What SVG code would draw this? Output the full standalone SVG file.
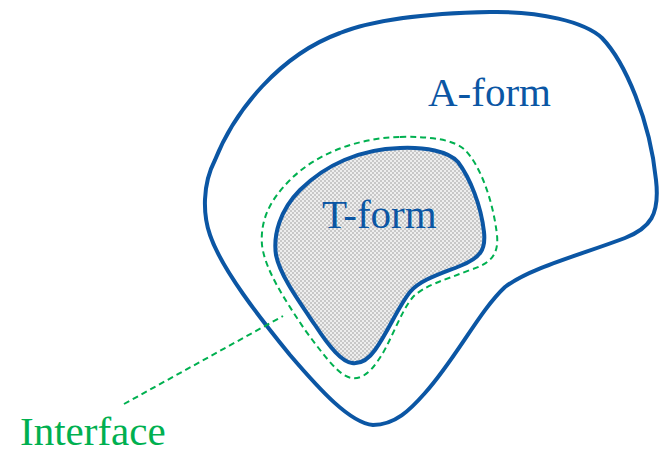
<svg xmlns="http://www.w3.org/2000/svg" width="659" height="453" viewBox="0 0 659 453">
<style>
.blue{fill:none;stroke:#0B56A4;stroke-width:4;stroke-linejoin:round}
.dash{fill:none;stroke:#00B050;stroke-width:2;stroke-dasharray:6,4}
.lbl{font-family:"Liberation Serif",serif;font-size:41px}
</style>
<defs>
<pattern id="chk" width="4" height="4" patternUnits="userSpaceOnUse">
<rect width="4" height="4" fill="#eeeeee"/>
<rect width="2" height="2" fill="#c8c8c8"/>
<rect x="2" y="2" width="2" height="2" fill="#c8c8c8"/>
</pattern>
</defs>
<g id="a-form">
<path class="blue" d="M490,12 C540,11 585,22 602,38 C625,62 650,120 656,180 C660,215 650,228 625,238 C580,255 530,268 505,287 C480,310 455,360 425,393 C410,410 395,425 373,425 C350,423 320,390 290,355 C260,318 222,270 210,235 C203,215 202,185 215,160 C235,110 280,55 340,33 C380,17 440,13 490,12 Z"/>
<text class="lbl" x="428" y="106" fill="#0B56A4">A-form</text>
</g>
<g id="interface">
<path class="dash" d="M400,137 C430,136 455,140 465,150 C480,165 493,200 497,235 C499,255 490,264 470,270 C445,280 425,285 413,297 C400,312 390,345 377,362 C368,375 360,379 352,378 C340,377 325,357 305,330 C285,300 265,270 262,245 C260,220 270,200 290,180 C315,155 355,138 400,137 Z"/>
<text class="lbl" x="20" y="445" fill="#00B050">Interface</text>
</g>
<g id="t-form">
<path d="M400,148 C425,147 448,151 458,162 C470,178 481,205 484,232 C486,250 480,258 460,266 C440,274 420,280 410,292 C398,307 388,332 375,350 C368,360 360,364 352,363 C342,362 330,348 315,325 C298,300 280,275 276,255 C273,235 280,210 300,190 C325,165 360,149 400,148 Z" fill="url(#chk)" stroke="#0B56A4" stroke-width="4"/>
<text class="lbl" x="322" y="228" fill="#0B56A4" font-size="40">T-form</text>
</g>
<g id="connectors">
<path class="dash" d="M124,404 L283,316"/>
</g>
</svg>
